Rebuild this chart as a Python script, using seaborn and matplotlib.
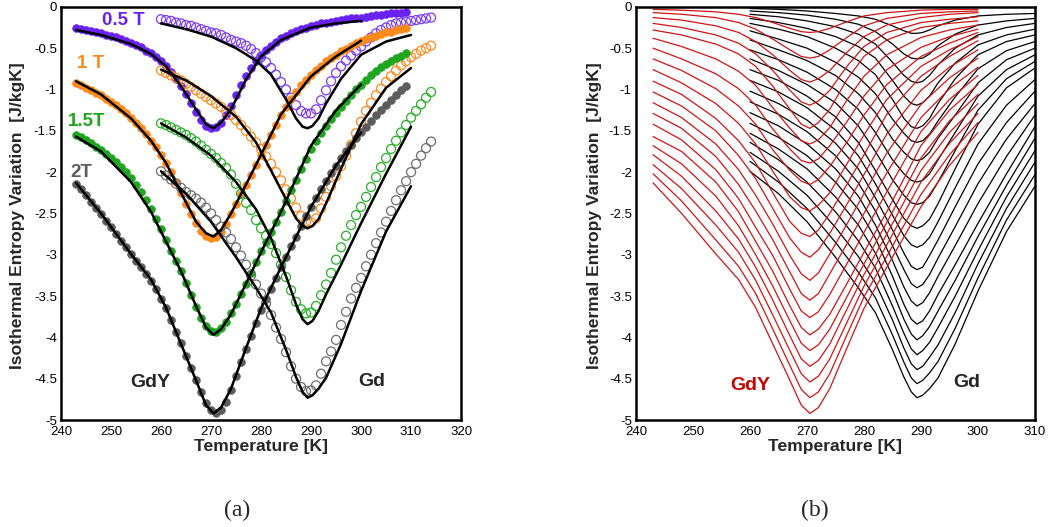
import numpy as np
import pandas as pd
import seaborn as sns
import matplotlib.pyplot as plt
from matplotlib.ticker import MultipleLocator, FuncFormatter

# ---- model curves (panel b, and the black fits of panel a) ----
fields = [0.1, 0.2, 0.3, 0.4, 0.5, 0.6, 0.7, 0.8, 0.9, 1.0,
          1.1, 1.2, 1.3, 1.4, 1.5, 1.6, 1.7, 1.8, 1.9, 2.0]

gdy_temps = [243, 248, 254, 258, 261, 264, 267, 269, 270.5, 272, 274, 277, 280, 284, 290, 295, 300]
gdy_model = [
    [-0.03, -0.04, -0.06, -0.09, -0.13, -0.19, -0.26, -0.30, -0.31, -0.30, -0.26, -0.18, -0.11, -0.07, -0.04, -0.03, -0.03],
    [-0.07, -0.09, -0.13, -0.19, -0.27, -0.39, -0.52, -0.60, -0.62, -0.60, -0.52, -0.37, -0.23, -0.14, -0.08, -0.06, -0.05],
    [-0.13, -0.16, -0.23, -0.31, -0.42, -0.58, -0.77, -0.88, -0.91, -0.87, -0.77, -0.55, -0.36, -0.22, -0.13, -0.09, -0.07],
    [-0.20, -0.25, -0.34, -0.44, -0.57, -0.77, -1.01, -1.15, -1.19, -1.14, -1.01, -0.72, -0.48, -0.31, -0.19, -0.15, -0.12],
    [-0.28, -0.34, -0.45, -0.57, -0.72, -0.96, -1.24, -1.42, -1.47, -1.40, -1.24, -0.88, -0.60, -0.40, -0.25, -0.20, -0.17],
    [-0.38, -0.48, -0.63, -0.78, -0.95, -1.22, -1.47, -1.62, -1.66, -1.61, -1.46, -1.13, -0.84, -0.58, -0.37, -0.28, -0.22],
    [-0.50, -0.63, -0.81, -0.99, -1.19, -1.48, -1.72, -1.86, -1.89, -1.84, -1.68, -1.39, -1.08, -0.76, -0.49, -0.36, -0.27],
    [-0.63, -0.77, -0.99, -1.20, -1.42, -1.73, -1.98, -2.11, -2.15, -2.09, -1.93, -1.64, -1.31, -0.94, -0.60, -0.44, -0.31],
    [-0.76, -0.92, -1.17, -1.41, -1.66, -1.99, -2.30, -2.43, -2.47, -2.40, -2.25, -1.90, -1.55, -1.12, -0.72, -0.52, -0.36],
    [-0.90, -1.06, -1.35, -1.62, -1.89, -2.25, -2.60, -2.74, -2.78, -2.70, -2.50, -2.15, -1.79, -1.30, -0.84, -0.60, -0.41],
    [-1.03, -1.20, -1.50, -1.80, -2.08, -2.44, -2.80, -2.97, -3.03, -2.94, -2.74, -2.39, -2.03, -1.54, -1.01, -0.73, -0.52],
    [-1.16, -1.34, -1.66, -1.97, -2.28, -2.63, -3.01, -3.23, -3.31, -3.22, -2.99, -2.63, -2.26, -1.77, -1.18, -0.86, -0.62],
    [-1.29, -1.47, -1.81, -2.15, -2.47, -2.82, -3.21, -3.47, -3.55, -3.47, -3.23, -2.87, -2.50, -2.01, -1.34, -0.99, -0.73],
    [-1.42, -1.61, -1.97, -2.32, -2.67, -3.01, -3.42, -3.68, -3.76, -3.69, -3.48, -3.11, -2.73, -2.24, -1.51, -1.12, -0.83],
    [-1.57, -1.75, -2.12, -2.48, -2.84, -3.20, -3.62, -3.88, -3.97, -3.90, -3.72, -3.35, -2.97, -2.48, -1.68, -1.25, -0.94],
    [-1.68, -1.90, -2.29, -2.65, -3.00, -3.38, -3.80, -4.07, -4.16, -4.09, -3.90, -3.51, -3.11, -2.61, -1.83, -1.38, -1.06],
    [-1.79, -2.05, -2.47, -2.81, -3.15, -3.55, -3.98, -4.26, -4.35, -4.28, -4.08, -3.66, -3.24, -2.75, -1.98, -1.52, -1.17],
    [-1.91, -2.20, -2.64, -2.97, -3.31, -3.73, -4.16, -4.44, -4.54, -4.47, -4.26, -3.82, -3.38, -2.88, -2.12, -1.65, -1.29],
    [-2.02, -2.35, -2.82, -3.14, -3.47, -3.90, -4.34, -4.63, -4.73, -4.66, -4.44, -3.97, -3.51, -3.02, -2.27, -1.79, -1.40],
    [-2.13, -2.50, -2.99, -3.30, -3.64, -4.08, -4.52, -4.82, -4.92, -4.85, -4.62, -4.13, -3.65, -3.15, -2.42, -1.92, -1.52],
]

gd_temps = [260, 265, 270, 275, 279, 282, 285, 287, 288.3, 289.3, 290.3, 291.5, 293, 296, 300, 305, 310]
gd_model = [
    [-0.02, -0.03, -0.05, -0.08, -0.11, -0.15, -0.23, -0.29, -0.32, -0.32, -0.31, -0.28, -0.23, -0.16, -0.11, -0.09, -0.08],
    [-0.05, -0.07, -0.10, -0.15, -0.21, -0.30, -0.45, -0.57, -0.62, -0.63, -0.62, -0.57, -0.47, -0.33, -0.22, -0.17, -0.14],
    [-0.09, -0.12, -0.17, -0.24, -0.33, -0.45, -0.67, -0.83, -0.90, -0.92, -0.90, -0.83, -0.70, -0.50, -0.34, -0.25, -0.20],
    [-0.14, -0.19, -0.26, -0.36, -0.48, -0.62, -0.89, -1.08, -1.17, -1.19, -1.16, -1.08, -0.92, -0.68, -0.46, -0.34, -0.27],
    [-0.20, -0.27, -0.36, -0.50, -0.65, -0.82, -1.12, -1.35, -1.45, -1.47, -1.44, -1.35, -1.17, -0.87, -0.58, -0.42, -0.34],
    [-0.29, -0.39, -0.50, -0.67, -0.85, -1.05, -1.36, -1.53, -1.62, -1.64, -1.62, -1.54, -1.38, -1.09, -0.75, -0.53, -0.42],
    [-0.40, -0.52, -0.65, -0.83, -1.05, -1.28, -1.60, -1.76, -1.84, -1.86, -1.84, -1.76, -1.59, -1.31, -0.92, -0.64, -0.50],
    [-0.52, -0.64, -0.79, -1.00, -1.24, -1.52, -1.85, -2.02, -2.10, -2.12, -2.10, -2.02, -1.85, -1.52, -1.08, -0.76, -0.58],
    [-0.63, -0.77, -0.94, -1.16, -1.44, -1.75, -2.09, -2.28, -2.37, -2.39, -2.37, -2.29, -2.12, -1.74, -1.25, -0.87, -0.66],
    [-0.76, -0.89, -1.08, -1.33, -1.64, -1.98, -2.33, -2.56, -2.65, -2.68, -2.65, -2.57, -2.38, -1.96, -1.42, -0.98, -0.74],
    [-0.89, -1.03, -1.22, -1.49, -1.80, -2.14, -2.52, -2.77, -2.88, -2.91, -2.88, -2.79, -2.60, -2.19, -1.66, -1.19, -0.88],
    [-1.02, -1.17, -1.37, -1.65, -1.96, -2.31, -2.70, -2.98, -3.14, -3.18, -3.15, -3.01, -2.82, -2.42, -1.90, -1.40, -1.02],
    [-1.15, -1.30, -1.51, -1.80, -2.13, -2.47, -2.89, -3.18, -3.35, -3.40, -3.36, -3.24, -3.04, -2.66, -2.14, -1.60, -1.17],
    [-1.28, -1.44, -1.66, -1.96, -2.29, -2.64, -3.07, -3.39, -3.56, -3.62, -3.58, -3.46, -3.26, -2.89, -2.38, -1.81, -1.31],
    [-1.41, -1.58, -1.80, -2.12, -2.45, -2.80, -3.26, -3.60, -3.78, -3.84, -3.80, -3.68, -3.48, -3.12, -2.62, -2.02, -1.45],
    [-1.53, -1.72, -1.96, -2.30, -2.64, -2.98, -3.44, -3.78, -3.96, -4.03, -3.98, -3.87, -3.68, -3.31, -2.78, -2.16, -1.59],
    [-1.64, -1.85, -2.12, -2.48, -2.83, -3.16, -3.62, -3.95, -4.14, -4.21, -4.16, -4.06, -3.88, -3.50, -2.95, -2.30, -1.74],
    [-1.76, -1.99, -2.28, -2.67, -3.02, -3.34, -3.79, -4.13, -4.32, -4.39, -4.35, -4.24, -4.09, -3.70, -3.11, -2.44, -1.88],
    [-1.87, -2.12, -2.44, -2.85, -3.21, -3.52, -3.97, -4.30, -4.49, -4.56, -4.52, -4.43, -4.29, -3.89, -3.28, -2.58, -2.03],
    [-1.99, -2.26, -2.60, -3.03, -3.40, -3.70, -4.15, -4.48, -4.66, -4.73, -4.70, -4.62, -4.49, -4.08, -3.44, -2.72, -2.17],
]

# ---- measured points (panel a) ----
gdy_meas_temps = list(range(243, 310))
gdy_05T = [-0.26, -0.27, -0.28, -0.29, -0.31, -0.32, -0.34, -0.35, -0.37, -0.39,
           -0.41, -0.44, -0.46, -0.49, -0.53, -0.56, -0.61, -0.66, -0.72, -0.79,
           -0.87, -0.96, -1.06, -1.16, -1.27, -1.37, -1.44, -1.47, -1.46, -1.40,
           -1.31, -1.20, -1.07, -0.95, -0.84, -0.74, -0.65, -0.58, -0.52, -0.47,
           -0.42, -0.38, -0.35, -0.32, -0.29, -0.27, -0.25, -0.23, -0.22, -0.20,
           -0.19, -0.18, -0.17, -0.16, -0.15, -0.14, -0.135, -0.13, -0.12, -0.11,
           -0.10, -0.10, -0.09, -0.08, -0.08, -0.07, -0.06]
gdy_1T = [-0.92, -0.95, -0.98, -1.01, -1.04, -1.07, -1.11, -1.15, -1.19, -1.24,
          -1.29, -1.35, -1.41, -1.47, -1.54, -1.62, -1.70, -1.79, -1.89, -2.00,
          -2.12, -2.25, -2.38, -2.51, -2.62, -2.71, -2.77, -2.80, -2.79, -2.73,
          -2.63, -2.51, -2.39, -2.27, -2.15, -2.03, -1.91, -1.79, -1.67, -1.55,
          -1.43, -1.31, -1.21, -1.12, -1.03, -0.95, -0.88, -0.82, -0.76, -0.71,
          -0.66, -0.62, -0.58, -0.54, -0.51, -0.47, -0.44, -0.41, -0.39, -0.37,
          -0.35, -0.33, -0.31, -0.30, -0.28, -0.27, -0.26]
gdy_15T = [-1.55, -1.58, -1.61, -1.65, -1.69, -1.73, -1.78, -1.83, -1.88, -1.94,
           -2.00, -2.07, -2.15, -2.24, -2.34, -2.45, -2.57, -2.69, -2.82, -2.95,
           -3.08, -3.20, -3.34, -3.49, -3.63, -3.76, -3.86, -3.92, -3.93, -3.89,
           -3.81, -3.71, -3.59, -3.47, -3.35, -3.22, -3.09, -2.96, -2.84, -2.72,
           -2.60, -2.48, -2.35, -2.22, -2.09, -1.96, -1.84, -1.72, -1.62, -1.53,
           -1.44, -1.36, -1.28, -1.21, -1.14, -1.07, -1.00, -0.94, -0.88, -0.83,
           -0.78, -0.73, -0.69, -0.65, -0.62, -0.59, -0.56]
gdy_2T = [-2.14, -2.21, -2.28, -2.36, -2.44, -2.51, -2.59, -2.67, -2.75, -2.83,
          -2.91, -2.99, -3.07, -3.15, -3.23, -3.32, -3.42, -3.53, -3.65, -3.79,
          -3.93, -4.07, -4.22, -4.37, -4.52, -4.66, -4.79, -4.88, -4.92, -4.88,
          -4.78, -4.64, -4.47, -4.30, -4.14, -3.98, -3.82, -3.67, -3.54, -3.41,
          -3.28, -3.15, -3.03, -2.90, -2.78, -2.65, -2.53, -2.42, -2.31, -2.21,
          -2.11, -2.01, -1.92, -1.83, -1.75, -1.67, -1.59, -1.52, -1.45, -1.38,
          -1.31, -1.25, -1.19, -1.13, -1.07, -1.01, -0.96]

gd_meas_temps = list(range(260, 315))
gd_05T = [-0.15, -0.16, -0.17, -0.19, -0.20, -0.22, -0.23, -0.25, -0.27, -0.29,
          -0.31, -0.32, -0.34, -0.37, -0.40, -0.42, -0.44, -0.47, -0.51, -0.56,
          -0.61, -0.67, -0.74, -0.82, -0.91, -1.00, -1.10, -1.19, -1.26, -1.29,
          -1.29, -1.24, -1.13, -1.01, -0.90, -0.80, -0.72, -0.65, -0.59, -0.53,
          -0.48, -0.42, -0.37, -0.32, -0.28, -0.25, -0.22, -0.20, -0.19, -0.18,
          -0.17, -0.16, -0.15, -0.14, -0.13]
gd_1T = [-0.77, -0.80, -0.83, -0.86, -0.89, -0.93, -0.97, -1.01, -1.05, -1.09,
         -1.13, -1.17, -1.21, -1.26, -1.31, -1.37, -1.43, -1.50, -1.57, -1.64,
         -1.72, -1.81, -1.90, -2.00, -2.10, -2.21, -2.32, -2.43, -2.53, -2.60,
         -2.61, -2.56, -2.44, -2.30, -2.17, -2.05, -1.93, -1.80, -1.67, -1.53,
         -1.39, -1.26, -1.16, -1.07, -0.99, -0.91, -0.84, -0.77, -0.71, -0.66,
         -0.61, -0.57, -0.53, -0.50, -0.47]
gd_15T = [-1.41, -1.43, -1.46, -1.49, -1.52, -1.55, -1.59, -1.63, -1.68, -1.73,
          -1.78, -1.83, -1.89, -1.95, -2.03, -2.14, -2.26, -2.37, -2.46, -2.58,
          -2.68, -2.77, -2.87, -2.98, -3.12, -3.27, -3.43, -3.57, -3.66, -3.71,
          -3.70, -3.62, -3.49, -3.36, -3.22, -3.06, -2.91, -2.77, -2.64, -2.52,
          -2.42, -2.30, -2.18, -2.06, -1.94, -1.83, -1.72, -1.62, -1.52, -1.43,
          -1.34, -1.26, -1.18, -1.10, -1.03]
gd_2T = [-1.99, -2.04, -2.09, -2.14, -2.19, -2.24, -2.28, -2.32, -2.37, -2.43,
         -2.50, -2.58, -2.66, -2.73, -2.81, -2.91, -3.01, -3.12, -3.25, -3.36,
         -3.47, -3.59, -3.73, -3.88, -4.02, -4.18, -4.35, -4.50, -4.60, -4.65,
         -4.64, -4.58, -4.44, -4.29, -4.17, -4.03, -3.85, -3.69, -3.53, -3.40,
         -3.28, -3.14, -3.00, -2.86, -2.73, -2.60, -2.47, -2.34, -2.22, -2.11,
         -2.00, -1.90, -1.80, -1.71, -1.63]

meas_fields = [0.5, 1.0, 1.5, 2.0]
meas_labels = ['0.5 T', '1 T', '1.5T', '2T']
meas_colors = ['#6A22F2', '#FF8A1C', '#1FA51F', '#5C5C5C']
open_colors = ['#7A3CF5', '#FF8A1C', '#25B025', '#6E6E6E']


def long_table(temps, table):
    rows = []
    for f, vals in zip(fields, table):
        for t, v in zip(temps, vals):
            rows.append({'T': t, 'dS': v, 'field': f})
    return pd.DataFrame(rows)


gdy_df = long_table(gdy_temps, gdy_model)
gd_df = long_table(gd_temps, gd_model)

sns.set_style('white')
plt.rcParams['font.family'] = ['Liberation Sans', 'DejaVu Sans']
plt.rcParams['axes.unicode_minus'] = False

fig = plt.figure(figsize=(10.5, 5.27), dpi=100)
ax1 = fig.add_axes([0.0581, 0.203, 0.381, 0.784])
ax2 = fig.add_axes([0.6057, 0.203, 0.380, 0.784])

# panel (a): measured points + fits
for f, col, ocol, g1, g2 in zip(meas_fields, meas_colors, open_colors,
                                [gdy_05T, gdy_1T, gdy_15T, gdy_2T],
                                [gd_05T, gd_1T, gd_15T, gd_2T]):
    sns.scatterplot(x=gdy_meas_temps, y=g1, ax=ax1, color=col, s=32,
                    edgecolor=col, linewidth=0.4, zorder=2)
    sns.scatterplot(x=gd_meas_temps, y=g2, ax=ax1, facecolor='none',
                    edgecolor=ocol, s=42, linewidth=0.9, zorder=2)

sub_gdy = gdy_df[gdy_df['field'].round(1).isin(meas_fields)]
sub_gd = gd_df[gd_df['field'].round(1).isin(meas_fields)]
sns.lineplot(data=sub_gdy, x='T', y='dS', units='field', estimator=None,
             color='black', lw=1.8, ax=ax1, zorder=3)
sns.lineplot(data=sub_gd, x='T', y='dS', units='field', estimator=None,
             color='black', lw=1.8, ax=ax1, zorder=3)

label_pos = [(248.2, -0.16), (243.2, -0.69), (241.3, -1.39), (241.8, -2.01)]
for (x, y), lab, col in zip(label_pos, meas_labels, meas_colors):
    ax1.text(x, y, lab, color=col, fontsize=13.5, fontweight='bold', va='center', ha='left')
ax1.text(253.8, -4.54, 'GdY', fontsize=14, fontweight='bold', va='center', ha='left')
ax1.text(299.4, -4.53, 'Gd', fontsize=14, fontweight='bold', va='center', ha='left')

# panel (b): model families
sns.lineplot(data=gd_df, x='T', y='dS', units='field', estimator=None,
             color='black', lw=0.9, ax=ax2)
sns.lineplot(data=gdy_df, x='T', y='dS', units='field', estimator=None,
             color='#D01414', lw=0.9, ax=ax2)
ax2.text(256.5, -4.58, 'GdY', color='#CC0000', fontsize=14, fontweight='bold', va='center', ha='left')
ax2.text(295.6, -4.55, 'Gd', fontsize=14, fontweight='bold', va='center', ha='left')

fmt = FuncFormatter(lambda v, p: f'{v:g}')
for ax, xmax, ylx in [(ax1, 320, -0.09), (ax2, 310, -0.085)]:
    ax.set_xlim(240, xmax)
    ax.set_ylim(-5, 0)
    ax.xaxis.set_major_locator(MultipleLocator(10))
    ax.xaxis.set_minor_locator(MultipleLocator(2))
    ax.yaxis.set_major_locator(MultipleLocator(0.5))
    ax.yaxis.set_minor_locator(MultipleLocator(0.1))
    ax.yaxis.set_major_formatter(fmt)
    ax.tick_params(which='both', direction='in', top=False, right=False,
                   labelsize=9.5, colors='black', width=1.2)
    ax.tick_params(which='major', length=7)
    ax.tick_params(which='minor', length=3.5)
    ax.tick_params(axis='x', which='major', pad=4.5)
    ax.tick_params(axis='y', which='major', pad=3)
    for sp in ax.spines.values():
        sp.set_linewidth(1.8)
        sp.set_color('black')
    ax.set_xlabel('Temperature [K]', fontsize=12.6, fontweight='bold')
    ax.set_ylabel('Isothermal Entropy Variation  [J/kgK]', fontsize=12.6, fontweight='bold')
    ax.xaxis.set_label_coords(0.5, -0.045)
    ax.yaxis.set_label_coords(ylx, 0.495)
    ax.grid(False)

fig.text(0.2257, 0.032, '(a)', fontsize=17, family='Liberation Serif', ha='center', va='center')
fig.text(0.776, 0.032, '(b)', fontsize=17, family='Liberation Serif', ha='center', va='center')

fig.savefig('out.png', dpi=100)
